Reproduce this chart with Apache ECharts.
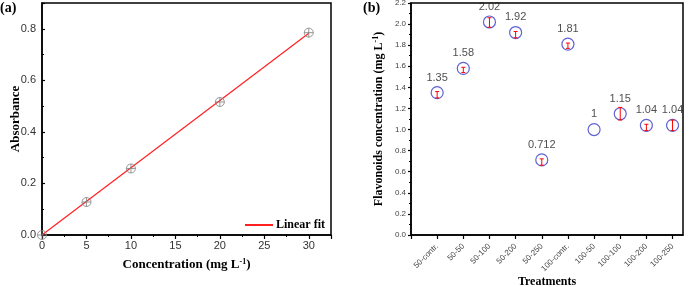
<!DOCTYPE html>
<html lang="en" style="height: 100%">
<head>
  <meta charset="utf-8">
</head>
<body style="height: 100%; margin: 0; background: #fff">
  <div id="container" style="width: 700px; height: 287px"></div>

  <script type="text/javascript" src="https://cdn.jsdelivr.net/npm/echarts@6/dist/echarts.min.js"></script>
  <script type="text/javascript">
    // panel (a): calibration
    var concX = [0, 5, 10, 20, 30];
    var absorbance = [0, 0.128, 0.258, 0.516, 0.785];
    var fitX = [0, 30];
    var fitY = [0, 0.783];

    // panel (b): treatments
    var treatments = ['50-contr.', '50-50', '50-100', '50-200', '50-250',
      '100-contr.', '100-50', '100-100', '100-200', '100-250'];
    var flavonoids = [1.35, 1.58, 2.02, 1.92, 0.712, 1.81, 1, 1.15, 1.04, 1.04];
    var errHigh = [0.01, 0.01, 0.04, 0.01, 0.01, 0.01, 0, 0.06, 0.01, 0.05];
    var errLow = [0.05, 0.04, 0.05, 0.05, 0.05, 0.04, 0, 0.06, 0.05, 0.05];

    var serif = 'Liberation Serif';
    var sans = 'Liberation Sans';
    var crossCircle = 'path://M0,-10A10,10 0 1,1 0,10A10,10 0 1,1 0,-10M-10,0L10,0M0,-10L0,10';

    var dom = document.getElementById('container');
    var myChart = echarts.init(dom, null, { renderer: 'canvas' });

    var axisLine = { lineStyle: { color: '#000', width: 1.5 } };
    var supRich = {
      sup: { fontSize: 8, fontWeight: 'bold', fontFamily: serif, color: '#000', verticalAlign: 'top', padding: [0, 0, 6, 0] }
    };

    var option = {
      animation: false,
      graphic: [
        { type: 'text', left: 0, top: 1, style: { text: '(a)', font: 'bold 14px ' + serif, fill: '#000' } },
        { type: 'text', left: 363, top: 1, style: { text: '(b)', font: 'bold 14px ' + serif, fill: '#000' } }
      ],
      legend: {
        data: ['Linear fit'],
        left: 240, top: 214,
        itemWidth: 28, itemHeight: 2, itemGap: 4,
        icon: 'rect',
        textStyle: { fontFamily: serif, fontWeight: 'bold', fontSize: 12, color: '#000', padding: [0, 0, 0, -2] }
      },
      grid: [
        { left: 42, top: 3, right: 369, bottom: 52, show: true, borderColor: '#000', borderWidth: 1.5, containLabel: false, outerBoundsMode: 'none' },
        { left: 411, top: 3, right: 17, bottom: 52, show: true, borderColor: '#000', borderWidth: 1.5, containLabel: false, outerBoundsMode: 'none' }
      ],
      xAxis: [
        {
          gridIndex: 0, type: 'value', min: 0, max: 32.5, interval: 5,
          name: 'Concentration (mg L{sup|-1})',
          nameLocation: 'middle', nameGap: 23, nameMoveOverlap: false,
          nameTextStyle: { fontFamily: serif, fontWeight: 'bold', fontSize: 13, color: '#000', rich: supRich },
          axisLine: axisLine,
          axisTick: { inside: false, length: 4, lineStyle: { color: '#000', width: 1.2 } },
          minorTick: { show: true, splitNumber: 2, length: 2, lineStyle: { color: '#000', width: 1 } },
          splitLine: { show: false },
          axisLabel: { fontFamily: sans, fontSize: 11, color: '#333', margin: 5, showMaxLabel: false }
        },
        {
          gridIndex: 1, type: 'value', min: 0, max: 10.4, interval: 1,
          name: 'Treatments',
          nameLocation: 'middle', nameGap: 41, nameMoveOverlap: false,
          nameTextStyle: { fontFamily: serif, fontWeight: 'bold', fontSize: 12, color: '#000' },
          axisLine: axisLine,
          axisTick: { inside: false, length: 4, lineStyle: { color: '#000', width: 1.2 } },
          splitLine: { show: false },
          axisLabel: {
            fontFamily: sans, fontSize: 8, color: '#444', rotate: 45, margin: 10,
            showMaxLabel: false,
            formatter: function (v) { return treatments[Math.round(v) - 1] || ''; }
          }
        }
      ],
      yAxis: [
        {
          gridIndex: 0, type: 'value', min: 0, max: 0.9, interval: 0.2,
          name: 'Absorbance',
          nameLocation: 'middle', nameGap: 20, nameMoveOverlap: false,
          nameTextStyle: { fontFamily: serif, fontWeight: 'bold', fontSize: 13, color: '#000' },
          axisLine: axisLine,
          axisTick: { inside: true, length: 3, lineStyle: { color: '#000', width: 1.2 } },
          minorTick: { show: true, splitNumber: 2, length: 2, lineStyle: { color: '#000', width: 1 } },
          splitLine: { show: false },
          axisLabel: {
            fontFamily: sans, fontSize: 11, color: '#333', margin: 6, showMaxLabel: false,
            formatter: function (v) { return v.toFixed(1); }
          }
        },
        {
          gridIndex: 1, type: 'value', min: 0, max: 2.2, interval: 0.2,
          name: 'Flavonoids concentration (mg L{sup|-1})',
          nameLocation: 'middle', nameGap: 25, nameMoveOverlap: false,
          nameTextStyle: { fontFamily: serif, fontWeight: 'bold', fontSize: 12, color: '#000', rich: supRich },
          axisLine: axisLine,
          axisTick: { inside: false, length: 3, lineStyle: { color: '#000', width: 1.2 } },
          minorTick: { show: true, splitNumber: 2, length: 2, lineStyle: { color: '#000', width: 1 } },
          splitLine: { show: false },
          axisLabel: {
            fontFamily: sans, fontSize: 8, color: '#444', margin: 5,
            formatter: function (v) { return v.toFixed(1); }
          }
        }
      ],
      series: [
        {
          name: 'Linear fit', type: 'line',
          xAxisIndex: 0, yAxisIndex: 0,
          data: fitX.map(function (x, i) { return [x, fitY[i]]; }),
          showSymbol: false, symbol: 'none',
          lineStyle: { color: '#ff2020', width: 1.2 },
          itemStyle: { color: '#ff2020' },
          z: 3
        },
        {
          name: 'Absorbance', type: 'scatter',
          xAxisIndex: 0, yAxisIndex: 0,
          data: concX.map(function (x, i) { return [x, absorbance[i]]; }),
          symbol: crossCircle, symbolSize: 9,
          itemStyle: { color: 'rgba(0,0,0,0)', borderColor: '#808080', borderWidth: 1 },
          z: 4
        },
        {
          name: 'Flavonoids', type: 'scatter',
          xAxisIndex: 1, yAxisIndex: 1,
          data: flavonoids.map(function (v, i) { return [i + 1, v]; }),
          symbol: 'circle', symbolSize: 12,
          itemStyle: { color: 'rgba(0,0,0,0)', borderColor: '#3a3ac8', borderWidth: 1.2 },
          label: {
            show: true, position: 'top', distance: 3,
            fontFamily: sans, fontSize: 11, color: '#222',
            formatter: function (p) { return String(p.value[1]); }
          },
          z: 3
        },
        {
          name: 'Error', type: 'custom',
          xAxisIndex: 1, yAxisIndex: 1,
          data: flavonoids.map(function (v, i) { return [i + 1, v - errLow[i], v + errHigh[i]]; }),
          renderItem: function (params, api) {
            if (api.value(1) === api.value(2)) return null;
            var lo = api.coord([api.value(0), api.value(1)]);
            var hi = api.coord([api.value(0), api.value(2)]);
            var w = 2;
            var st = { stroke: '#ff0000', lineWidth: 1 };
            return {
              type: 'group',
              children: [
                { type: 'line', shape: { x1: lo[0], y1: lo[1], x2: hi[0], y2: hi[1] }, style: st },
                { type: 'line', shape: { x1: lo[0] - w, y1: lo[1], x2: lo[0] + w, y2: lo[1] }, style: st },
                { type: 'line', shape: { x1: hi[0] - w, y1: hi[1], x2: hi[0] + w, y2: hi[1] }, style: st }
              ]
            };
          },
          z: 4
        }
      ]
    };

    myChart.setOption(option);
    window.addEventListener('resize', myChart.resize);
  </script>
</body>
</html>
